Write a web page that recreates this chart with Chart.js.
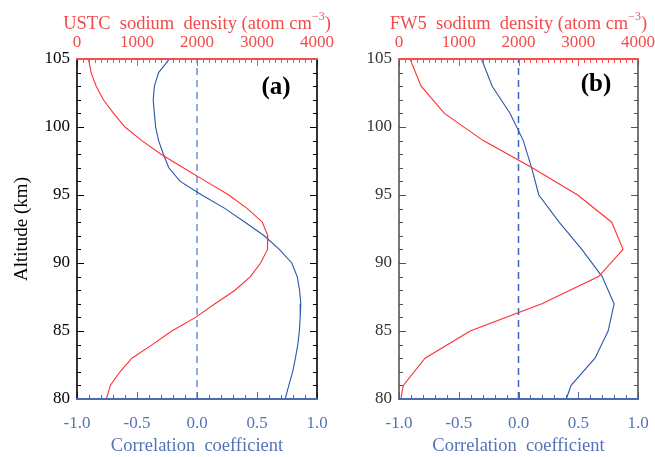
<!DOCTYPE html>
<html><head><meta charset="utf-8">
<script src="https://cdn.jsdelivr.net/npm/chart.js@4.4.0/dist/chart.umd.min.js"></script>
<style>
html,body{margin:0;padding:0;background:#fff;}
#wrap{position:relative;width:655px;height:457px;overflow:hidden;background:#fff;}
canvas{position:absolute;top:0;}
</style></head><body>
<div id="wrap">
<canvas id="ca" width="345" height="457" style="left:0px"></canvas>
<canvas id="cb" width="328" height="457" style="left:327px"></canvas>
</div>
<script>
// ---- data ----
const altitudeA = [105,104,103,102,101,100,99,98,97,96,95,94,93,92,91,90,89,88,87,86,85,84,83,82,81,80];
const ustcDensity = [190,235,320,440,610,800,1080,1400,1770,2150,2530,2840,3090,3180,3175,3060,2890,2633,2300,1975,1580,1255,915,717,555,490];
const corrA = [-0.23,-0.32,-0.355,-0.365,-0.355,-0.345,-0.32,-0.28,-0.235,-0.14,0.04,0.235,0.40,0.56,0.686,0.79,0.835,0.855,0.865,0.86,0.853,0.84,0.82,0.797,0.765,0.735];

const altitudeB = [105,103,101,99,97,95,93,91,89,87,85,83,81,80];
const fw5Density = [185,370,760,1410,2230,2990,3560,3750,3340,2390,1190,435,72,30];
const corrB = [-0.31,-0.22,-0.07,0.04,0.11,0.17,0.34,0.53,0.70,0.80,0.75,0.64,0.44,0.40];

const densityTicks = [0,1000,2000,3000,4000];
const corrTicks = [-1.0,-0.5,0.0,0.5,1.0];
const altitudeTicks = [80,85,90,95,100,105];
const zeroLine = [0,0];
const zeroLineAlt = [80,105];

const RED_TXT = '#f24b4b';
const RED_LINE = '#ff3030';
const BLUE_TXT = '#5573b8';
const BLUE_LINE = '#2a56b0';
const SERIF = 'Liberation Serif';

Chart.defaults.font.family = SERIF;

function pts(xs, ys){ return xs.map((x,i)=>({x:x, y:ys[i]})); }

const frameTicks = {
  id:'frameTicks',
  afterDraw(chart, args, o){
    const ctx = chart.ctx;
    const {left,right,top,bottom} = chart.chartArea;
    const sx = chart.scales.x, sx2 = chart.scales.x2, sy = chart.scales.y;
    ctx.save();
    ctx.lineWidth = 1;
    const line=(x1,y1,x2,y2,c)=>{ctx.strokeStyle=c;ctx.beginPath();ctx.moveTo(x1,y1);ctx.lineTo(x2,y2);ctx.stroke();};
    for(let v=0; v<=4000; v+=100){
      const px=Math.round(sx2.getPixelForValue(v))+0.5;
      const L = (v%1000===0)?7:4;
      line(px,top,px,top+L,o.topColor);
    }
    for(let i=-10;i<=10;i++){
      const px=Math.round(sx.getPixelForValue(i/10))+0.5;
      const L = (i%5===0)?7:4;
      line(px,bottom,px,bottom-L,o.bottomColor);
    }
    for(let a=80;a<=105;a++){
      const py=Math.round(sy.getPixelForValue(a))+0.5;
      const L = (a%5===0)?7:4;
      line(left,py,left+L,py,o.sideColor);
      line(right,py,right-L,py,o.sideColor);
    }
    ctx.lineWidth = 1.6;
    line(left,top,left,bottom,o.sideColor);
    line(right,top,right,bottom,o.sideColor);
    ctx.lineWidth = 2;
    line(left-1,top,right+1,top,o.topColor);
    line(left-1,bottom,right+1,bottom,o.bottomColor);
    // panel label
    ctx.fillStyle = '#000';
    ctx.font = 'bold 25px "'+SERIF+'"';
    ctx.textAlign = 'center';
    ctx.textBaseline = 'middle';
    ctx.fillText(o.label, right - o.labelDx, top + o.labelDy);
    // top title with superscript
    const cx = (left+right)/2;
    const F1 = '18.5px "'+SERIF+'"', F2 = '12px "'+SERIF+'"';
    ctx.font = F1;
    const main = o.topTitle, sup = '\u2212' + '3', close = ')';
    const w1 = ctx.measureText(main).width;
    ctx.font = F2;
    const w2 = ctx.measureText(sup).width;
    ctx.font = F1;
    const w3 = ctx.measureText(close).width;
    let x0 = cx - (w1+w2+w3)/2;
    ctx.fillStyle = RED_TXT;
    ctx.textAlign = 'left';
    ctx.textBaseline = 'alphabetic';
    const base = 29;
    ctx.fillText(main, x0, base);
    ctx.font = F2;
    ctx.fillText(sup, x0+w1, base-9);
    ctx.font = F1;
    ctx.fillText(close, x0+w1+w2, base);
    ctx.restore();
  }
};

function makeChart(id, alt, dens, corr, opt){
  return new Chart(document.getElementById(id), {
    type:'scatter',
    data:{datasets:[
      {data:pts(dens,alt), xAxisID:'x2', yAxisID:'y', showLine:true, borderColor:RED_LINE, borderWidth:1.1, pointRadius:0, tension:0},
      {data:pts(corr,alt), xAxisID:'x', yAxisID:'y', showLine:true, borderColor:BLUE_LINE, borderWidth:1.1, pointRadius:0, tension:0},
      {data:pts(zeroLine,zeroLineAlt), xAxisID:'x', yAxisID:'y', showLine:true, borderColor:opt.dashColor, borderWidth:1.5, borderDash:[7,5], pointRadius:0}
    ]},
    options:{
      responsive:false, animation:false, devicePixelRatio:1,
      layout:{padding:{left:0,right:opt.padRight,top:0,bottom:0}},
      plugins:{legend:{display:false}, tooltip:{enabled:false},
        frameTicks:{topColor:'#f05050', bottomColor:'#4a6cb5', sideColor:opt.sideColor, label:opt.label, labelDx:opt.labelDx, labelDy:opt.labelDy, topTitle:opt.topTitle}},
      scales:{
        x:{type:'linear', position:'bottom', min:-1, max:1,
          afterBuildTicks:(s)=>{s.ticks=corrTicks.map(v=>({value:v}));},
          ticks:{color:BLUE_TXT, font:{size:17, family:SERIF}, padding:14, maxRotation:0, callback:(v)=>Number(v).toFixed(1)},
          grid:{display:false, drawTicks:false}, border:{display:false},
          title:{display:true, text:'Correlation  coefficient', color:BLUE_TXT, font:{size:18.5, family:SERIF, lineHeight:1.2}, padding:{top:0,bottom:0}},
          afterFit:(s)=>{s.height=457-399; s.paddingLeft=0; s.paddingRight=0;}
        },
        x2:{type:'linear', position:'top', min:0, max:4000,
          afterBuildTicks:(s)=>{s.ticks=densityTicks.map(v=>({value:v}));},
          ticks:{color:RED_TXT, font:{size:17, family:SERIF}, padding:6, maxRotation:0, callback:(v)=>String(v)},
          grid:{display:false, drawTicks:false}, border:{display:false},
          afterFit:(s)=>{s.height=59; s.paddingLeft=0; s.paddingRight=0;}
        },
        y:{type:'linear', position:'left', min:80, max:105,
          afterBuildTicks:(s)=>{s.ticks=altitudeTicks.map(v=>({value:v}));},
          ticks:{color:opt.yTickColor, font:{size:17, family:SERIF}, padding:7, callback:(v)=>String(v)},
          grid:{display:false, drawTicks:false}, border:{display:false},
          title:{display:opt.yTitle, text:'Altitude (km)', color:'#000', font:{size:19, family:SERIF, lineHeight:1.2}, padding:{top:11,bottom:0}},
          afterFit:(s)=>{s.width=opt.yWidth; s.paddingTop=0; s.paddingBottom=0;}
        }
      }
    },
    plugins:[frameTicks]
  });
}

makeChart('ca', altitudeA, ustcDensity, corrA, {padRight:28, yWidth:77, yTitle:true, yTickColor:'#000', sideColor:'#000', dashColor:'#7090cc', label:'(a)', labelDx:41, labelDy:29, topTitle:'USTC  sodium  density (atom cm'});
makeChart('cb', altitudeB, fw5Density, corrB, {padRight:17, yWidth:72, yTitle:false, yTickColor:'#333', sideColor:'#555', dashColor:'#3a62b8', label:'(b)', labelDx:42, labelDy:26, topTitle:'FW5  sodium  density (atom cm'});
</script>
</body></html>
